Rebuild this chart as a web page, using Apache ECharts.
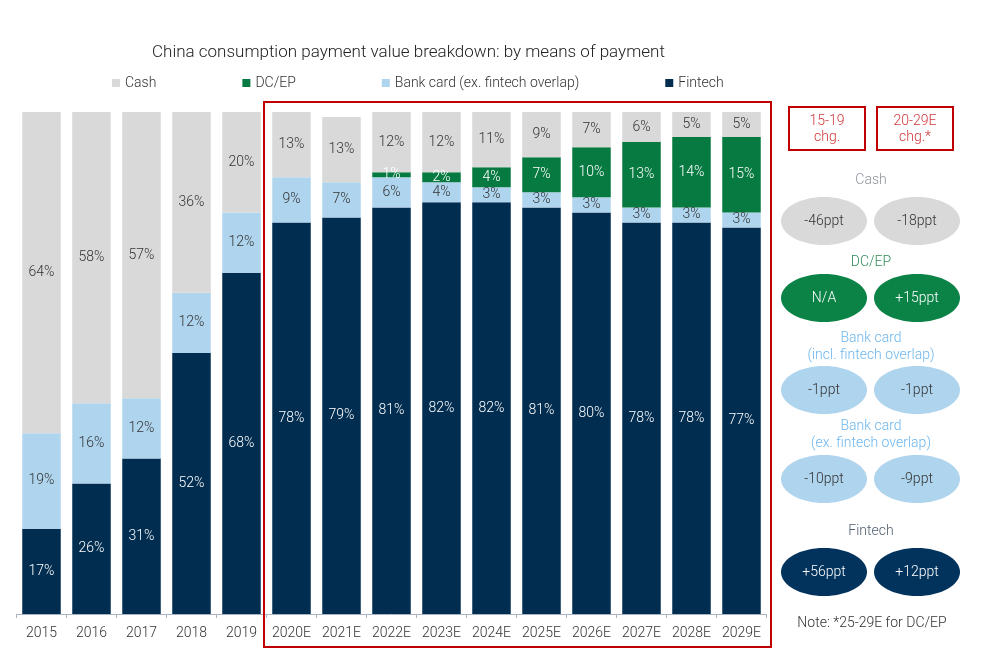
<!DOCTYPE html>
<html><head><meta charset="utf-8">
<script src="https://cdn.jsdelivr.net/npm/echarts@6/dist/echarts.min.js"></script>
<style>html,body{margin:0;padding:0;background:#fff}#c{width:986px;height:667px}</style>
</head><body><div id="c"></div>
<script>
const categories = ['2015','2016','2017','2018','2019','2020E','2021E','2022E','2023E','2024E','2025E','2026E','2027E','2028E','2029E'];
const fintech  = [17,26,31,52,68,78,79,81,82,82,81,80,78,78,77];
const bankCard = [19,16,12,12,12,9,7,6,4,3,3,3,3,3,3];
const dcep     = [null,null,null,null,null,null,null,1,2,4,7,10,13,14,15];
const cash     = [64,58,57,36,20,13,13,12,12,11,9,7,6,5,5];
const seriesNames = ['Cash','DC/EP','Bank card (ex. fintech overlap)','Fintech'];
const colors = {cash:'#d9d9d9', dcep:'#077a41', bank:'#afd4ee', fintech:'#012d50'};

const chg = [
  {title:['Cash'], titleColor:'#8e959d', fill:'#d9d9d9', txt:'#333', a:'-46ppt', b:'-18ppt', ty:[180], ey:221},
  {title:['DC/EP'], titleColor:'#2e8b57', fill:'#0b8347', txt:'#fff', a:'N/A', b:'+15ppt', ty:[262], ey:298},
  {title:['Bank card','(incl. fintech overlap)'], titleColor:'#6db6ee', fill:'#afd4ee', txt:'#333', a:'-1ppt', b:'-1ppt', ty:[338,355], ey:390},
  {title:['Bank card','(ex. fintech overlap)'], titleColor:'#6db6ee', fill:'#afd4ee', txt:'#333', a:'-10ppt', b:'-9ppt', ty:[426,443], ey:479},
  {title:['Fintech'], titleColor:'#4f5e6e', fill:'#01335c', txt:'#fff', a:'+56ppt', b:'+12ppt', ty:[531], ey:572}
];

const chart = echarts.init(document.getElementById('c'));
const FONT = 'Roboto';
const W = 300;
const lbl = (color) => ({show:true, position:'inside', color:color, fontSize:14, fontWeight:W, fontFamily:FONT,
  formatter: p => (p.value==null||p.value===0) ? '' : p.value + '%'});

const graphics = [];
graphics.push({type:'rect', shape:{x:264, y:102, width:507, height:545}, style:{fill:'none', stroke:'#c00000', lineWidth:2}, z:10});
[[789,'15-19','chg.'],[877,'20-29E','chg.*']].forEach(([x,l1,l2])=>{
  graphics.push({type:'rect', shape:{x:x, y:107, width:76, height:43}, style:{fill:'#fff', stroke:'#c00000', lineWidth:2}});
  graphics.push({type:'text', x:x+38, y:121, style:{text:l1, fill:'#d0383a', font:W+' 14px '+FONT, textAlign:'center', textVerticalAlign:'middle'}});
  graphics.push({type:'text', x:x+38, y:137, style:{text:l2, fill:'#d0383a', font:W+' 14px '+FONT, textAlign:'center', textVerticalAlign:'middle'}});
});
chg.forEach(g=>{
  g.title.forEach((t,i)=>{
    graphics.push({type:'text', x:871, y:g.ty[i], style:{text:t, fill:g.titleColor, font:W+' 14px '+FONT, textAlign:'center', textVerticalAlign:'middle'}});
  });
  [[824,g.a],[917,g.b]].forEach(([cx,t])=>{
    graphics.push({type:'ellipse', shape:{cx:cx, cy:g.ey, rx:43, ry:24}, style:{fill:g.fill}});
    graphics.push({type:'text', x:cx, y:g.ey, style:{text:t, fill:g.txt, font:W+' 14px '+FONT, textAlign:'center', textVerticalAlign:'middle'}});
  });
});
graphics.push({type:'text', x:872, y:623, style:{text:'Note: *25-29E for DC/EP', fill:'#333', font:W+' 14px '+FONT, textAlign:'center', textVerticalAlign:'middle'}});

chart.setOption({
  animation:false,
  textStyle:{fontFamily:FONT},
  title:{text:'China consumption payment value breakdown: by means of payment', left:147, top:39,
    textStyle:{fontSize:17, fontWeight:W, color:'#222', fontFamily:FONT}},
  legend:{data:seriesNames, left:107, top:71, itemWidth:8, itemHeight:8, itemGap:86, icon:'rect',
    textStyle:{fontSize:14, fontWeight:W, color:'#333', fontFamily:FONT}},
  grid:{left:16.5, right:219.5, top:112, bottom:53, containLabel:false},
  xAxis:{type:'category', data:categories,
    axisLine:{lineStyle:{color:'#a9b4c0'}}, axisTick:{show:true, length:4, lineStyle:{color:'#a9b4c0'}},
    axisLabel:{color:'#333', fontSize:14, fontWeight:W, margin:12, interval:0, fontFamily:FONT}},
  yAxis:{type:'value', min:0, max:100, show:false, splitLine:{show:false}},
  series:[
    {name:'Fintech', type:'bar', stack:'t', data:fintech, barCategoryGap:'23%', itemStyle:{color:colors.fintech}, label:lbl('#fff')},
    {name:'Bank card (ex. fintech overlap)', type:'bar', stack:'t', data:bankCard, itemStyle:{color:colors.bank}, label:lbl('#333')},
    {name:'DC/EP', type:'bar', stack:'t', data:dcep, itemStyle:{color:colors.dcep}, label:lbl('#fff')},
    {name:'Cash', type:'bar', stack:'t', data:cash, itemStyle:{color:colors.cash}, label:lbl('#333')}
  ],
  graphic:graphics
});
</script></body></html>
